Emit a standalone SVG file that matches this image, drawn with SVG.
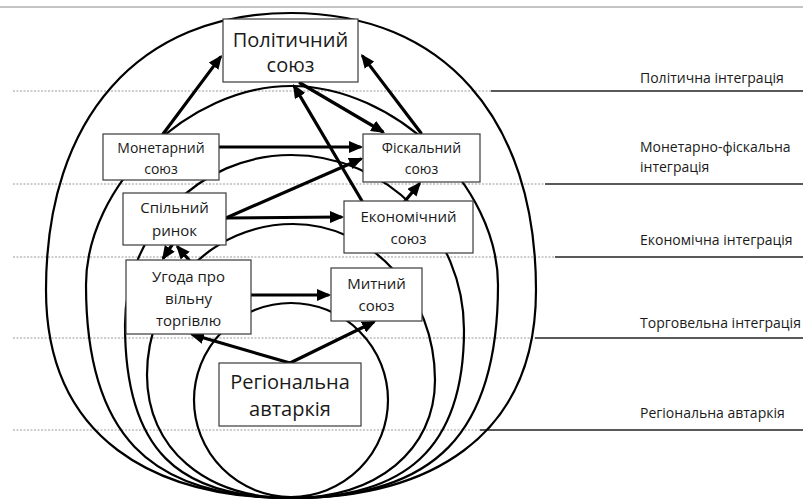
<svg xmlns="http://www.w3.org/2000/svg" width="803" height="502" viewBox="0 0 803 502">
<defs>
<style>
.dot{stroke:#9a9a9a;stroke-width:1;stroke-dasharray:2 1.5;fill:none}
.sol{stroke:#222;stroke-width:1.6;fill:none}
.loop{stroke:#000;stroke-width:2.2;fill:none}
.arr{stroke:#000;stroke-width:3.2;fill:none;marker-end:url(#ah);stroke-linecap:round}
.box{fill:#fff;stroke:#3a3a3a;stroke-width:1.2}
.t{font-family:"Open Sans","Noto Sans",sans-serif;fill:#1a1a1a;text-anchor:middle}
.lab{font-family:"Open Sans","Noto Sans",sans-serif;fill:#1a1a1a;font-size:14px}
</style>
<marker id="ah" viewBox="0 0 14 12" refX="11" refY="6" markerWidth="14" markerHeight="12" markerUnits="userSpaceOnUse" orient="auto">
<path d="M0,0 L14,6 L0,12 Z" fill="#000"/>
</marker>
</defs>
<rect width="803" height="502" fill="#fff"/>
<line x1="0" y1="7" x2="803" y2="7" stroke="#8a8a8a" stroke-width="1"/>
<g id="levels">
<line class="dot" x1="13" y1="91" x2="491" y2="91"/>
<line class="sol" x1="491" y1="91" x2="803" y2="91"/>
<line class="dot" x1="13" y1="184" x2="545" y2="184"/>
<line class="sol" x1="545" y1="184" x2="803" y2="184"/>
<line class="dot" x1="13" y1="257" x2="555" y2="257"/>
<line class="sol" x1="555" y1="257" x2="803" y2="257"/>
<line class="dot" x1="13" y1="338" x2="535" y2="338"/>
<line class="sol" x1="535" y1="338" x2="803" y2="338"/>
<line class="dot" x1="13" y1="430" x2="480" y2="430"/>
<line class="sol" x1="480" y1="430" x2="803" y2="430"/>
<text class="lab" x="640" y="83">Політична інтеграція</text>
<text class="lab" x="640" y="152">Монетарно-фіскальна</text>
<text class="lab" x="640" y="172">інтеграція</text>
<text class="lab" x="640" y="245">Економічна інтеграція</text>
<text class="lab" x="640" y="328">Торговельна інтеграція</text>
<text class="lab" x="640" y="418">Регіональна автаркія</text>
</g>
<g id="loops">
<path class="loop" d="M291,13 C139,13 46,118 46,290 C46,440 156,498 291,498 C426,498 536,440 536,290 C536,118 443,13 291,13 Z"/>
<path class="loop" d="M291,86 C188.5,86 86,185.5 86,285 C86,432.7 147.5,498 291,498 C435.9,498 498,432.7 498,285 C498,185.5 394.5,86 291,86 Z"/>
<path class="loop" d="M291,155 C199.4,155 125,231.2 125,325 C125,450 178,498 291,498 C404,498 464,450 464,330 C464,233.4 386.5,155 291,155 Z"/>
<path class="loop" d="M293,224 C212.4,224 147,291.6 147,375 C147,448.2 204.6,498 291,498 C377.4,498 435,450.2 435,380 C435,293.9 371.4,224 293,224 Z"/>
<circle class="loop" cx="291" cy="400" r="97"/>
</g>
<g id="connectors">
<line class="arr" x1="163" y1="134" x2="220.2" y2="57.4"/>
<line class="arr" x1="421" y1="133" x2="362.8" y2="56.4"/>
<line class="arr" x1="300" y1="83" x2="382.4" y2="131.5"/>
<line class="arr" x1="362" y1="201" x2="294.5" y2="86.6"/>
<line class="arr" x1="219" y1="147" x2="360" y2="147"/>
<line class="arr" x1="226" y1="218" x2="360.3" y2="159.2"/>
<line class="arr" x1="226" y1="218" x2="341" y2="217"/>
<line class="arr" x1="405" y1="201" x2="419" y2="184.3"/>
<line class="arr" x1="172" y1="245" x2="163.7" y2="257.5"/>
<line class="arr" x1="189" y1="260" x2="178" y2="247.3"/>
<line class="arr" x1="251" y1="295" x2="328" y2="295"/>
<line class="arr" x1="290" y1="363" x2="192.9" y2="334.8"/>
<line class="arr" x1="290" y1="363" x2="373.3" y2="322.3"/>
</g>
<g id="political">
<rect class="box" x="223" y="19" width="135" height="63"/>
<text class="t" x="290.5" y="47" font-size="20">Політичний</text>
<text class="t" x="290.5" y="72" font-size="20">союз</text>
</g>
<g id="monetary">
<rect class="box" x="103" y="134" width="116" height="46"/>
<text class="t" x="161" y="153" font-size="14">Монетарний</text>
<text class="t" x="161" y="174" font-size="14">союз</text>
</g>
<g id="fiscal">
<rect class="box" x="363" y="134" width="117" height="48"/>
<text class="t" x="421.5" y="153" font-size="14">Фіскальний</text>
<text class="t" x="421.5" y="174" font-size="14">союз</text>
</g>
<g id="common-market">
<rect class="box" x="123" y="193" width="103" height="52"/>
<text class="t" x="174.5" y="213" font-size="15">Спільний</text>
<text class="t" x="174.5" y="236" font-size="15">ринок</text>
</g>
<g id="economic">
<rect class="box" x="344" y="201" width="129" height="52"/>
<text class="t" x="408.5" y="222" font-size="15">Економічний</text>
<text class="t" x="408.5" y="244" font-size="15">союз</text>
</g>
<g id="fta">
<rect class="box" x="126" y="260" width="125" height="74"/>
<text class="t" x="188.5" y="282" font-size="15">Угода про</text>
<text class="t" x="188.5" y="304" font-size="15">вільну</text>
<text class="t" x="188.5" y="326" font-size="15">торгівлю</text>
</g>
<g id="customs">
<rect class="box" x="331" y="268" width="91" height="53"/>
<text class="t" x="376.5" y="289" font-size="15">Митний</text>
<text class="t" x="376.5" y="311" font-size="15">союз</text>
</g>
<g id="autarky">
<rect class="box" x="219" y="363" width="142" height="63"/>
<text class="t" x="290" y="389" font-size="20">Регіональна</text>
<text class="t" x="290" y="416" font-size="20">автаркія</text>
</g>
</svg>
